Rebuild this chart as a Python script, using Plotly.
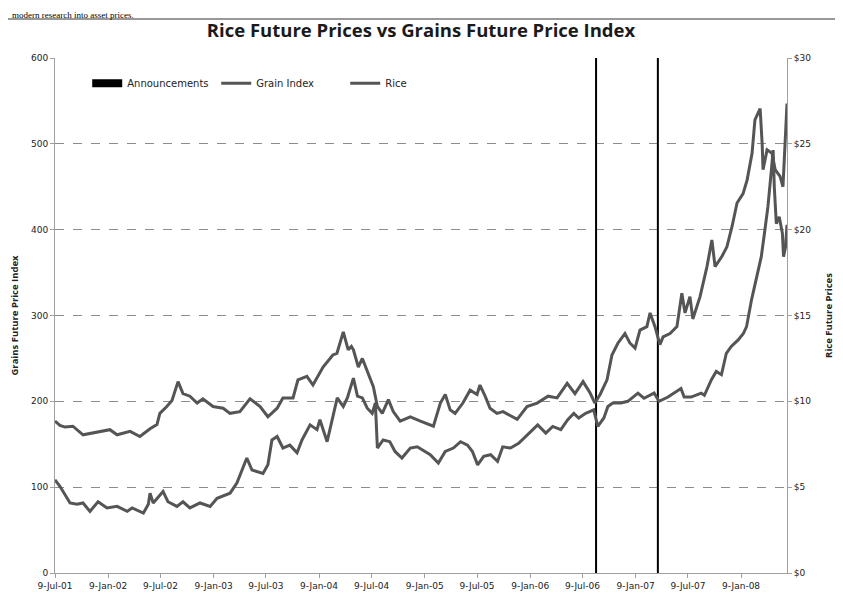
import plotly.graph_objects as go

# ---------------- data ----------------
grain_dates = [
    "2001-07-09", "2001-07-26", "2001-08-13", "2001-09-09", "2001-10-14", "2001-11-18",
    "2002-01-15", "2002-02-09", "2002-03-26", "2002-04-29", "2002-06-03", "2002-06-27",
    "2002-07-07", "2002-07-31", "2002-08-18", "2002-09-08", "2002-09-25", "2002-10-19",
    "2002-11-13", "2002-12-03", "2003-01-07", "2003-02-11", "2003-03-07", "2003-04-10",
    "2003-05-15", "2003-06-19", "2003-07-16", "2003-08-17", "2003-09-06", "2003-10-11",
    "2003-10-28", "2003-11-28", "2003-12-19", "2004-01-23", "2004-02-26", "2004-03-11",
    "2004-04-02", "2004-04-19", "2004-04-30", "2004-05-07", "2004-05-24", "2004-06-07",
    "2004-06-24", "2004-07-15", "2004-07-29", "2004-08-15", "2004-09-05", "2004-09-22",
    "2004-10-16", "2004-11-20", "2004-12-25", "2005-02-08", "2005-03-04", "2005-03-21",
    "2005-04-07", "2005-04-24", "2005-05-21", "2005-06-15", "2005-07-09", "2005-07-19",
    "2005-08-06", "2005-08-23", "2005-09-16", "2005-10-07", "2005-11-25", "2005-12-29",
    "2006-02-02", "2006-03-12", "2006-04-12", "2006-05-17", "2006-06-13", "2006-07-11",
    "2006-08-04", "2006-08-21", "2006-09-08", "2006-10-02", "2006-10-19", "2006-11-09",
    "2006-12-03", "2006-12-20", "2007-01-07", "2007-01-24", "2007-02-17", "2007-02-28",
    "2007-03-17", "2007-04-03", "2007-04-14", "2007-05-08", "2007-06-01", "2007-06-18",
    "2007-06-29", "2007-07-16", "2007-07-26", "2007-08-20", "2007-09-13", "2007-09-30",
    "2007-10-11", "2007-11-04", "2007-11-21", "2007-12-09", "2007-12-26", "2008-01-16",
    "2008-01-30", "2008-02-16", "2008-02-26", "2008-03-15", "2008-03-22", "2008-03-25",
    "2008-04-08", "2008-04-25", "2008-05-06", "2008-05-23", "2008-06-02", "2008-06-09",
    "2008-06-16",
]
grain_index = [
    177, 172, 170, 171, 161, 163,
    167, 161, 165, 159, 168, 173,
    186, 194, 201, 223, 209, 206,
    198, 203, 194, 192, 186, 188,
    203, 194, 182, 192, 204, 204,
    225, 229, 219, 240, 254, 256,
    281, 260, 264, 260, 240, 250,
    236, 217, 194, 186, 202, 188,
    177, 182, 177, 171, 198, 208,
    190, 186, 198, 213, 208, 219,
    206, 192, 186, 188, 179, 194,
    198, 206, 204, 221, 209, 223,
    210, 198, 208, 225, 254, 268,
    279, 268, 262, 283, 287, 303,
    287, 266, 275, 279, 287, 326,
    303, 322, 296, 322, 357, 388,
    357, 369, 380, 404, 431, 442,
    458, 489, 528, 541, 500, 470,
    493, 489, 470, 462, 450, 500,
    547,
]

rice_dates = [
    "2001-07-09", "2001-07-26", "2001-08-30", "2001-09-23", "2001-10-14", "2001-11-07",
    "2001-12-05", "2002-01-05", "2002-02-09", "2002-03-16", "2002-04-02", "2002-05-11",
    "2002-05-28", "2002-06-03", "2002-06-14", "2002-07-18", "2002-08-04", "2002-09-04",
    "2002-09-25", "2002-10-19", "2002-11-23", "2002-12-28", "2003-01-21", "2003-03-07",
    "2003-03-31", "2003-04-17", "2003-05-04", "2003-05-22", "2003-06-29", "2003-07-16",
    "2003-07-30", "2003-08-17", "2003-09-06", "2003-09-30", "2003-10-25", "2003-11-11",
    "2003-12-09", "2004-01-02", "2004-01-12", "2004-02-06", "2004-03-12", "2004-04-02",
    "2004-04-16", "2004-05-07", "2004-05-21", "2004-06-07", "2004-06-24", "2004-07-11",
    "2004-07-22", "2004-07-29", "2004-08-18", "2004-09-10", "2004-09-28", "2004-10-22",
    "2004-11-20", "2004-12-14", "2005-01-01", "2005-01-28", "2005-02-25", "2005-03-21",
    "2005-04-18", "2005-05-13", "2005-06-06", "2005-06-23", "2005-07-11", "2005-08-01",
    "2005-08-25", "2005-09-18", "2005-10-06", "2005-11-02", "2005-11-30", "2005-12-31",
    "2006-02-04", "2006-03-04", "2006-03-28", "2006-04-25", "2006-05-19", "2006-06-09",
    "2006-06-26", "2006-07-20", "2006-08-17", "2006-08-31", "2006-09-21", "2006-10-05",
    "2006-10-22", "2006-11-19", "2006-12-13", "2007-01-17", "2007-02-07", "2007-03-14",
    "2007-03-31", "2007-05-01", "2007-05-22", "2007-06-15", "2007-06-26", "2007-07-20",
    "2007-08-24", "2007-09-04", "2007-09-28", "2007-10-15", "2007-11-02", "2007-11-19",
    "2007-12-06", "2007-12-30", "2008-01-17", "2008-01-28", "2008-02-14", "2008-03-02",
    "2008-03-19", "2008-03-30", "2008-04-11", "2008-04-23", "2008-04-29", "2008-05-03",
    "2008-05-10", "2008-05-20", "2008-05-31", "2008-06-04", "2008-06-11", "2008-06-16",
]
rice_price = [
    5.43, 5.05, 4.08, 4.00, 4.08, 3.59,
    4.15, 3.79, 3.88, 3.59, 3.79, 3.49,
    4.00, 4.65, 4.08, 4.75, 4.15, 3.88,
    4.15, 3.79, 4.08, 3.88, 4.35, 4.65,
    5.25, 6.00, 6.70, 6.00, 5.80, 6.30,
    7.75, 7.95, 7.28, 7.45, 7.00, 7.75,
    8.63, 8.35, 8.93, 7.65, 10.20, 9.70,
    10.20, 11.35, 10.30, 10.20, 9.60, 9.30,
    9.90, 7.28, 7.75, 7.65, 7.08, 6.70,
    7.28, 7.35, 7.18, 6.89, 6.40, 7.08,
    7.28, 7.65, 7.45, 7.08, 6.30, 6.80,
    6.89, 6.50, 7.35, 7.28, 7.55, 8.05,
    8.63, 8.15, 8.54, 8.35, 8.93, 9.30,
    9.03, 9.30, 9.50, 8.54, 9.03, 9.70,
    9.90, 9.90, 10.00, 10.48, 10.18, 10.48,
    10.00, 10.25, 10.48, 10.75, 10.25, 10.25,
    10.48, 10.35, 11.25, 11.74, 11.55, 12.80,
    13.20, 13.58, 13.95, 14.35, 15.90, 17.25,
    18.43, 19.79, 21.34, 23.48, 24.64, 22.50,
    20.35, 20.75, 19.79, 18.43, 19.00, 20.28,
]

announcement_dates = ["2006-08-25", "2007-03-27"]

tick_dates = [
    "2001-07-09", "2002-01-09", "2002-07-09", "2003-01-09", "2003-07-09",
    "2004-01-09", "2004-07-09", "2005-01-09", "2005-07-09", "2006-01-09",
    "2006-07-09", "2007-01-09", "2007-07-09", "2008-01-09",
]
x_range = ["2001-07-09", "2008-06-16"]
left_range = [0, 600]
right_range = [0, 30]

# ---------------- styles ----------------
LINE_COL = "#555555"
AXIS_COL = "#a0a0a0"
TXT_COL = "#222222"
TICK_FONT = dict(family="DejaVu Sans", size=9, color=TXT_COL)

fig = go.Figure()

# legend-only entry for announcements (thick black key)
fig.add_trace(go.Scatter(
    x=[None], y=[None], mode="lines", name="Announcements",
    line=dict(color="black", width=8), showlegend=True,
))
for d in announcement_dates:
    fig.add_trace(go.Scatter(
        x=[d, d], y=left_range, mode="lines", name="Announcements",
        line=dict(color="black", width=2), showlegend=False, hoverinfo="skip",
    ))

fig.add_trace(go.Scatter(
    x=grain_dates, y=grain_index, mode="lines", name="Grain Index",
    line=dict(color=LINE_COL, width=3), yaxis="y",
))
fig.add_trace(go.Scatter(
    x=rice_dates, y=rice_price, mode="lines", name="Rice",
    line=dict(color=LINE_COL, width=3), yaxis="y2",
))

fig.update_layout(
    width=835, height=590,
    margin=dict(l=47, r=56, t=50, b=25, autoexpand=False),
    paper_bgcolor="white", plot_bgcolor="white",
    showlegend=True,
    title=dict(
        text="<b>Rice Future Prices vs Grains Future Price Index</b>",
        x=0.5, xanchor="center", xref="paper", y=0.961, yanchor="middle",
        font=dict(family="Open Sans", size=18.5, color="#1a1a1a"),
    ),
    legend=dict(
        orientation="h", x=0.044, y=0.951, xanchor="left", yanchor="middle",
        font=dict(family="DejaVu Sans", size=10, color=TXT_COL),
        bgcolor="rgba(0,0,0,0)", itemwidth=30, tracegroupgap=0,
        entrywidth=84, entrywidthmode="pixels",
    ),
    xaxis=dict(
        type="date", range=x_range, tickvals=tick_dates, tickformat="%-d-%b-%y",
        showgrid=False, showline=True, linecolor=AXIS_COL, linewidth=1,
        ticks="outside", ticklen=4, tickcolor=AXIS_COL, tickfont=TICK_FONT,
        zeroline=False, automargin=False,
    ),
    yaxis=dict(
        range=left_range, dtick=100, showgrid=True, gridcolor="#8c8c8c",
        griddash="dash", gridwidth=1, showline=True, linecolor=AXIS_COL,
        ticks="outside", ticklen=4, tickcolor=AXIS_COL, tickfont=TICK_FONT,
        zeroline=False, automargin=False,
        title=dict(text="<b>Grains Future Price Index</b>", standoff=15,
                   font=dict(family="Open Sans", size=9.5, color=TXT_COL)),
    ),
    yaxis2=dict(
        range=right_range, dtick=5, overlaying="y", side="right",
        tickprefix="$", showgrid=False, showline=True, linecolor=AXIS_COL,
        ticks="outside", ticklen=4, tickcolor=AXIS_COL, tickfont=TICK_FONT,
        zeroline=False, automargin=False,
        title=dict(text="<b>Rice Future Prices</b>", standoff=15,
                   font=dict(family="Open Sans", size=9.5, color=TXT_COL)),
    ),
)

# document text and rule above the chart
fig.add_annotation(
    text="modern research into asset prices.", xref="paper", yref="paper",
    x=-0.0615, y=1.0971, xanchor="left", yanchor="top", showarrow=False,
    font=dict(family="Liberation Serif", size=9, color="black"),
)
fig.add_shape(type="line", xref="paper", yref="paper", x0=-0.07, x1=1.08,
              y0=1.0757, y1=1.0757, line=dict(color="#777777", width=1.5))

fig.write_html("out.html")
